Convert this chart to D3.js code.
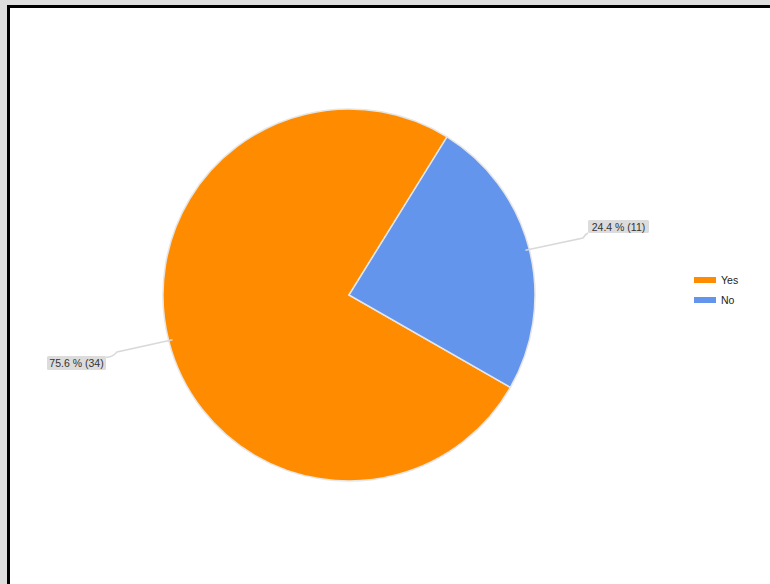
<!DOCTYPE html>
<html>
<head>
<meta charset="utf-8">
<script src="https://cdn.jsdelivr.net/npm/d3@7"></script>
<style>
  html, body { margin: 0; padding: 0; background: #dedede; }
  svg { display: block; }
</style>
</head>
<body>
<svg id="chart" width="770" height="584"></svg>
<script>
// Survey answers
const categories = ["Yes", "No"];
const counts = [34, 11];
const colors = ["#FF8C00", "#6495ED"];

const svg = d3.select("#chart");
const W = 770, H = 584;

// Framed white panel
svg.append("rect").attr("x", 7).attr("y", 5).attr("width", W).attr("height", H)
  .attr("fill", "#fff");
svg.append("rect").attr("x", 8.5).attr("y", 6.5).attr("width", W + 20).attr("height", H + 20)
  .attr("fill", "none").attr("stroke", "#000").attr("stroke-width", 3);

const cx = 349, cy = 295, r = 186;
const total = d3.sum(counts);
const data = categories.map((c, i) => ({ cat: c, value: counts[i], color: colors[i] }));

// Yes starts a bit past 4 o'clock and sweeps clockwise
const start = 119.8 * Math.PI / 180;
const pie = d3.pie().value(d => d.value).sort(null)
  .startAngle(start).endAngle(start + 2 * Math.PI);
const arcs = pie(data);
const arc = d3.arc().innerRadius(0).outerRadius(r);

const g = svg.append("g").attr("transform", `translate(${cx},${cy})`);
g.selectAll("path").data(arcs).join("path")
  .attr("d", arc)
  .attr("fill", d => d.data.color)
  .attr("stroke", "#e6e6e6")
  .attr("stroke-width", 1.5);

// Callout labels
const fmt = d => `${(d.value / total * 100).toFixed(1)} % (${d.value})`;
const labelPos = {
  "No":  { bx: 588, by: 220, bw: 61, bh: 13, elbow: [583, 238], anchor: [588, 233] },
  "Yes": { bx: 47,  by: 356, bw: 59, bh: 14, elbow: [117, 352], anchor: [106, 357] }
};
arcs.forEach(a => {
  const p = labelPos[a.data.cat];
  const mid = (a.startAngle + a.endAngle) / 2;
  const [ex, ey] = p.elbow;
  // point on the rim closest to the label's direction
  const ang = Math.atan2(ex - cx, -(ey - cy));
  const useAng = Math.abs(ang - mid) < 1.5 ? ang : mid;
  const rimX = cx + (r - 4) * Math.sin(useAng);
  const rimY = cy - (r - 4) * Math.cos(useAng);
  const path = d3.path();
  path.moveTo(rimX, rimY);
  path.lineTo(ex, ey);
  path.quadraticCurveTo((ex + p.anchor[0]) / 2, p.anchor[1] + 1, p.anchor[0], p.anchor[1]);
  svg.append("path").attr("d", path.toString())
    .attr("fill", "none").attr("stroke", "#d9d9d9").attr("stroke-width", 1.5);
  svg.append("rect").attr("x", p.bx).attr("y", p.by).attr("width", p.bw).attr("height", p.bh)
    .attr("rx", 1.5).attr("fill", "#dcdcdc");
  svg.append("text").attr("x", p.bx + p.bw / 2).attr("y", p.by + p.bh / 2 + 4)
    .attr("text-anchor", "middle")
    .attr("font-family", "Liberation Sans, Arial, sans-serif")
    .attr("font-size", 10.5).attr("fill", "#333")
    .text(fmt(a.data));
});

// Legend
const legend = svg.append("g").attr("transform", "translate(694,277)");
const items = legend.selectAll("g").data(data).join("g")
  .attr("transform", (d, i) => `translate(0,${i * 20})`);
items.append("rect").attr("width", 22).attr("height", 6).attr("fill", d => d.color);
items.append("text").attr("x", 27).attr("y", 7)
  .attr("font-family", "Liberation Sans, Arial, sans-serif")
  .attr("font-size", 10.5).attr("fill", "#222")
  .text(d => d.cat);
</script>
</body>
</html>
